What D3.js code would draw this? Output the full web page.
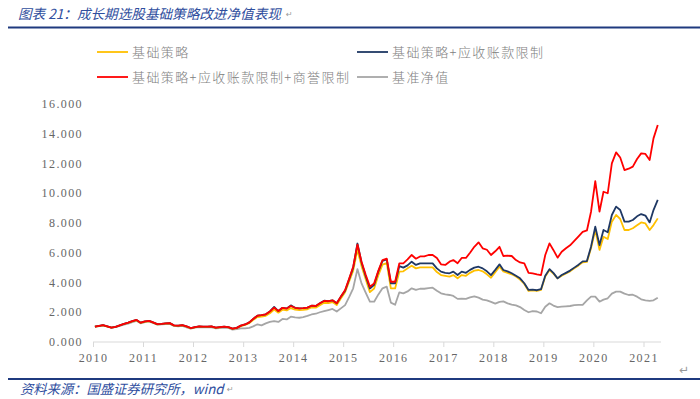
<!DOCTYPE html>
<html>
<head>
<meta charset="utf-8">
<script src="https://cdn.jsdelivr.net/npm/d3@7"></script>
<style>
  body { margin: 0; background: #fff; }
  svg { display: block; }
</style>
</head>
<body>
<div id="chart"></div>
<script>
// monthly net values, Jan 2010 .. Apr 2021
var seriesNames = ["基础策略", "基础策略+应收账款限制", "基础策略+应收账款限制+商誉限制", "基准净值"];
var seriesColors = ["#FFC000", "#1F3864", "#FF0000", "#A6A6A6"];

var redVals = [
  1.03,1.08,1.13,1.05,0.97,1.02,1.12,1.22,1.30,1.40,1.48,1.30,
  1.38,1.42,1.32,1.20,1.22,1.25,1.27,1.12,1.10,1.14,1.05,0.94,
  1.00,1.05,1.04,1.03,1.05,0.97,1.00,1.03,1.00,0.90,0.95,1.10,
  1.18,1.32,1.55,1.77,1.80,1.86,2.05,2.31,2.08,2.30,2.25,2.42,
  2.30,2.26,2.28,2.31,2.44,2.42,2.60,2.76,2.74,2.80,2.60,3.05,
  3.50,4.30,5.06,6.55,5.40,4.50,3.72,3.94,4.80,5.51,5.60,4.05,
  4.05,5.29,5.29,5.55,5.85,5.60,5.75,5.75,5.85,5.85,5.65,5.22,
  5.18,5.40,5.51,5.29,5.65,5.65,6.00,6.40,6.70,6.30,6.20,5.85,
  6.10,6.40,5.78,5.80,5.78,5.51,5.35,5.29,4.65,4.61,4.55,4.50,
  5.85,6.63,6.19,5.67,6.07,6.30,6.50,6.80,7.10,7.40,7.50,8.76,
  10.82,8.76,10.10,10.00,12.01,12.75,12.40,11.56,11.65,11.79,12.30,12.68,
  12.64,12.24,13.69,14.59
];

var navyVals = [
  1.03,1.08,1.13,1.05,0.97,1.02,1.12,1.22,1.30,1.40,1.48,1.30,
  1.38,1.42,1.32,1.20,1.22,1.25,1.27,1.12,1.10,1.14,1.05,0.94,
  1.00,1.05,1.04,1.03,1.05,0.97,1.00,1.03,1.00,0.90,0.95,1.10,
  1.18,1.32,1.55,1.77,1.80,1.86,2.06,2.36,2.08,2.30,2.26,2.46,
  2.30,2.26,2.28,2.31,2.44,2.42,2.60,2.78,2.74,2.80,2.60,3.05,
  3.45,4.25,5.00,6.62,5.35,4.40,3.60,3.85,4.75,5.45,5.55,3.95,
  3.95,5.10,5.00,5.15,5.40,5.18,5.29,5.29,5.29,5.29,4.95,4.73,
  4.65,4.62,4.73,4.50,4.73,4.65,4.85,5.00,5.06,4.95,4.75,4.50,
  4.85,5.22,4.84,4.75,4.62,4.45,4.28,3.95,3.50,3.52,3.48,3.55,
  4.45,4.90,4.65,4.28,4.50,4.65,4.80,5.00,5.20,5.42,5.44,6.41,
  7.75,6.52,7.53,7.38,8.54,9.10,8.87,8.09,8.09,8.20,8.45,8.60,
  8.50,8.04,8.87,9.55
];

var yellowVals = [
  1.03,1.07,1.12,1.04,0.96,1.01,1.11,1.21,1.29,1.38,1.46,1.28,
  1.36,1.40,1.30,1.18,1.20,1.23,1.25,1.10,1.08,1.12,1.03,0.92,
  0.98,1.03,1.02,1.01,1.03,0.95,0.98,1.01,0.98,0.88,0.93,1.06,
  1.15,1.27,1.48,1.68,1.70,1.76,1.93,2.18,1.97,2.17,2.12,2.28,
  2.18,2.14,2.16,2.20,2.33,2.31,2.48,2.64,2.62,2.68,2.48,2.92,
  3.35,4.10,4.80,6.20,5.10,4.20,3.35,3.60,4.50,5.20,5.30,3.60,
  3.60,4.73,4.75,4.95,5.13,4.95,5.02,5.02,5.02,5.02,4.70,4.50,
  4.45,4.40,4.50,4.28,4.50,4.45,4.65,4.80,4.84,4.75,4.55,4.32,
  4.70,5.06,4.75,4.65,4.55,4.40,4.20,3.90,3.43,3.47,3.43,3.50,
  4.40,4.84,4.60,4.28,4.45,4.60,4.75,4.95,5.15,5.36,5.38,6.30,
  7.53,6.19,7.08,6.92,8.09,8.54,8.27,7.53,7.53,7.65,7.85,8.04,
  7.97,7.53,7.86,8.31
];

var grayVals = [
  1.03,1.07,1.12,1.05,0.97,1.00,1.08,1.17,1.24,1.33,1.42,1.26,
  1.33,1.37,1.28,1.16,1.18,1.20,1.22,1.08,1.05,1.08,0.99,0.90,
  0.96,1.00,0.99,0.98,0.99,0.92,0.94,0.97,0.94,0.83,0.87,0.92,
  0.92,0.95,1.05,1.19,1.12,1.25,1.35,1.41,1.35,1.55,1.52,1.70,
  1.65,1.63,1.68,1.75,1.85,1.90,2.00,2.08,2.15,2.22,2.05,2.26,
  2.48,3.05,3.61,4.90,3.94,3.30,2.71,2.71,3.20,3.61,3.72,2.65,
  2.50,3.34,3.27,3.40,3.61,3.50,3.58,3.58,3.62,3.65,3.45,3.27,
  3.20,3.16,3.10,2.90,2.92,2.90,3.00,3.07,2.98,2.85,2.80,2.70,
  2.58,2.70,2.73,2.60,2.52,2.46,2.35,2.15,2.00,2.08,2.05,1.93,
  2.37,2.60,2.45,2.35,2.38,2.40,2.42,2.48,2.50,2.50,2.80,3.05,
  3.05,2.71,2.85,2.94,3.25,3.39,3.39,3.25,3.16,3.18,3.05,2.87,
  2.80,2.76,2.80,2.98
];

var dates = redVals.map(function (d, i) { return new Date(2010, i, 15); });
var yearTicks = d3.range(2010, 2022);
var yTicks = d3.range(0, 17, 2);

var width = 700, height = 399;
var svg = d3.select("#chart").append("svg")
    .attr("width", width)
    .attr("height", height);

var x = d3.scaleTime()
    .domain([new Date(2010, 0, 1), new Date(2021, 0, 1)])
    .range([93, 643.5]);
var y = d3.scaleLinear()
    .domain([0, 16])
    .range([342, 104]);

var numFont = "'Liberation Serif', 'DejaVu Serif', serif";
var cjkFont = "'Noto Sans CJK SC', sans-serif";
var markFont = "'DejaVu Sans', sans-serif";

// title + rules
svg.append("text")
    .attr("x", 18).attr("y", 19)
    .attr("font-family", cjkFont)
    .attr("font-size", 13.6)
    .attr("font-style", "italic")
    .attr("fill", "#2F4E9E")
    .text("图表 21：成长期选股基础策略改进净值表现");
svg.append("text")
    .attr("x", 286).attr("y", 17)
    .attr("font-family", markFont)
    .attr("font-size", 8).attr("fill", "#999")
    .text("↵");
svg.append("line")
    .attr("x1", 8).attr("x2", 700).attr("y1", 27.5).attr("y2", 27.5)
    .attr("stroke", "#1F3A7F").attr("stroke-width", 2);

svg.append("line")
    .attr("x1", 8).attr("x2", 700).attr("y1", 379).attr("y2", 379)
    .attr("stroke", "#1F3A7F").attr("stroke-width", 2);
svg.append("text")
    .attr("x", 20).attr("y", 394)
    .attr("font-family", cjkFont)
    .attr("font-size", 13.3)
    .attr("font-style", "italic")
    .attr("fill", "#2F4E9E")
    .text("资料来源：国盛证券研究所，wind");
svg.append("text")
    .attr("x", 227).attr("y", 392)
    .attr("font-family", markFont)
    .attr("font-size", 8).attr("fill", "#999")
    .text("↵");
svg.append("text")
    .attr("x", 679).attr("y", 374)
    .attr("font-family", markFont)
    .attr("font-size", 12).attr("fill", "#999")
    .text("↵");

// y labels
svg.append("g").selectAll("text")
    .data(yTicks)
    .enter().append("text")
    .attr("x", 83)
    .attr("y", function (d) { return y(d) + 4; })
    .attr("text-anchor", "end")
    .attr("font-family", numFont)
    .attr("font-size", 12)
    .attr("letter-spacing", 1.4)
    .attr("fill", "#666")
    .text(function (d) { return d3.format(".3f")(d); });

// x axis
var xAxis = d3.axisBottom(x)
    .tickValues(yearTicks.map(function (yr) { return new Date(yr, 0, 1); }))
    .tickFormat(d3.timeFormat("%Y"))
    .tickSize(5)
    .tickPadding(6);

var gx = svg.append("g")
    .attr("transform", "translate(0," + y(0) + ")")
    .call(xAxis);
gx.select(".domain").remove();
gx.append("line")
    .attr("x1", 93).attr("x2", 661)
    .attr("stroke", "#D9D9D9");
gx.selectAll(".tick line").attr("stroke", "#D9D9D9");
gx.selectAll(".tick text")
    .attr("font-family", numFont)
    .attr("font-size", 12)
    .attr("letter-spacing", 1.4)
    .attr("fill", "#666");

// lines
var allVals = [yellowVals, navyVals, redVals, grayVals];
var line = d3.line()
    .x(function (d, i) { return x(dates[i]); })
    .y(function (d) { return y(d); });

var drawOrder = [3, 0, 1, 2];
svg.append("g").selectAll("path")
    .data(drawOrder)
    .enter().append("path")
    .attr("d", function (k) { return line(allVals[k]); })
    .attr("fill", "none")
    .attr("stroke", function (k) { return seriesColors[k]; })
    .attr("stroke-width", 1.8)
    .attr("stroke-linejoin", "round");

// legend
var legendPos = [[97, 52], [357, 52], [97, 77], [357, 77]];
var legend = svg.append("g").selectAll("g")
    .data(seriesNames)
    .enter().append("g")
    .attr("transform", function (d, i) {
        return "translate(" + legendPos[i][0] + "," + legendPos[i][1] + ")";
    });
legend.append("line")
    .attr("x1", 0).attr("x2", 31)
    .attr("stroke", function (d, i) { return seriesColors[i]; })
    .attr("stroke-width", 1.8);
legend.append("text")
    .attr("x", 35).attr("y", 5)
    .attr("font-family", cjkFont)
    .attr("font-size", 13)
    .attr("font-weight", 300)
    .attr("letter-spacing", 1.4)
    .attr("fill", "#808080")
    .text(function (d) { return d; });
</script>
</body>
</html>
